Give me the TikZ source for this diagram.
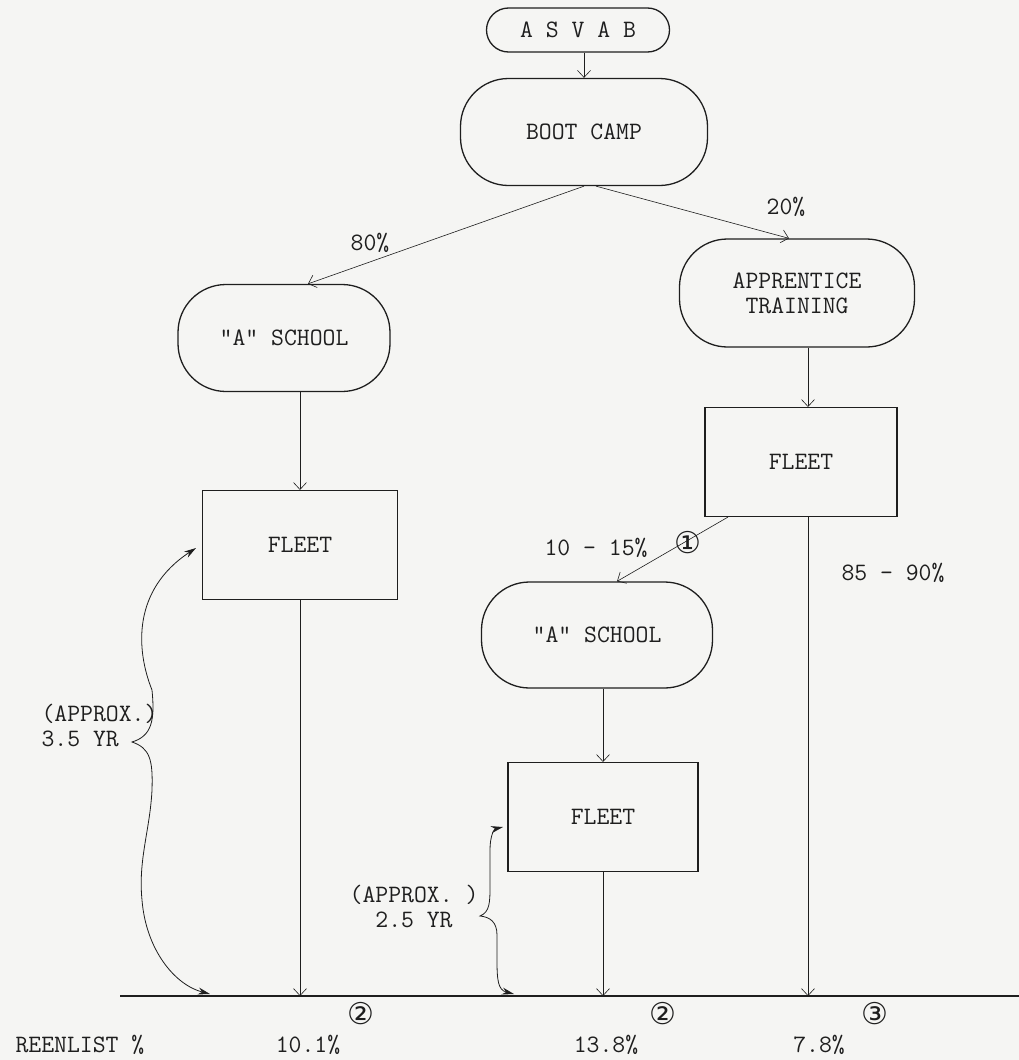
\documentclass[tikz,border=0pt]{standalone}
\usepackage{fontspec}
\newfontfamily\circfont{DejaVu Sans}
\usetikzlibrary{arrows.meta, positioning, calc}
\definecolor{paper}{HTML}{F5F5F3}
\definecolor{ink}{HTML}{1E1E1E}
\tikzset{
  typed/.style={font=\ttfamily\fontsize{25}{25}\selectfont, text=ink},
  pill/.style={typed, draw=ink, line width=1.3pt, rounded corners=48pt, align=center, inner sep=0pt},
  fleetbox/.style={typed, draw=ink, line width=1.1pt, minimum width=192pt, minimum height=109pt, inner sep=0pt},
  flow/.style={draw=ink, line width=0.6pt, -{Straight Barb[length=7pt, width=13pt]}},
  span/.style={draw=ink, line width=0.8pt, {Stealth[length=12pt, width=7pt]}-{Stealth[length=12pt, width=7pt]}},
  circled/.style={font=\circfont\fontsize{30}{30}\selectfont, text=ink, inner sep=0pt},
}

\begin{document}
\begin{tikzpicture}[x=1pt, y=-1pt]
  \fill[paper] (0,0) rectangle (1019,1060);
  \useasboundingbox (0,0) rectangle (1019,1060);

  % stages
  \node[pill, minimum width=183pt, minimum height=44pt, rounded corners=22pt] (asvab) at (578,30) {A S V A B};
  \node[pill, minimum width=247pt, minimum height=107pt] (boot) at (584,132) {BOOT CAMP};
  \node[pill, minimum width=212pt, minimum height=107pt] (schoolL) at (284,338) {"A" SCHOOL};
  \node[pill, minimum width=235pt, minimum height=108pt] (train) at (797,293) {APPRENTICE\\TRAINING};
  \node[fleetbox] (fleetR) at (801,462) {FLEET};
  \node[fleetbox, minimum width=195pt] (fleetL) at (300,545) {FLEET};
  \node[pill, minimum width=231pt, minimum height=106pt] (schoolM) at (597,635) {"A" SCHOOL};
  \node[fleetbox, minimum width=190pt] (fleetM) at (603,817) {FLEET};

  % time line
  \coordinate (baseW) at (120,996);
  \coordinate (baseE) at (1019,996);
  \draw[ink, line width=1.4pt] (baseW) -- (baseE);

  % flows
  \draw[flow] (boot.north |- asvab.south) -- (boot.north);
  \draw[flow] (boot.south) -- ([xshift=24pt]schoolL.north);
  \draw[flow] ([xshift=12pt]boot.south) -- ([xshift=-8pt]train.north);
  \draw[flow] ([xshift=11pt]train.south) -- ([xshift=7pt]fleetR.north);
  \draw[flow] (fleetL.north |- schoolL.south) -- (fleetL.north);
  \draw[flow] (fleetL.south) -- (fleetL.south |- baseW);
  \coordinate (dropR) at ([xshift=7pt]fleetR.south);
  \draw[flow] (dropR) -- (dropR |- baseW);
  \draw[flow] ([xshift=-73pt]fleetR.south) -- ([xshift=20pt]schoolM.north);
  \draw[flow] (fleetM.north |- schoolM.south) -- (fleetM.north);
  \draw[flow] (fleetM.south) -- (fleetM.south |- baseW);

  % shares
  \node[typed] (shareA) at (370,243) {80\%};
  \node[typed] (shareB) at (786,207) {20\%};
  \node[typed] (shareC) at (596,548) {10 - 15\%};
  \node[circled] (noteA) at (688,543) {①};
  \node[typed] (shareD) at (893,573) {85 - 90\%};

  % service spans
  \coordinate (yrsAlow) at (210,994);
  \coordinate (yrsAtop) at (196,548);
  \draw[span] (yrsAlow) .. controls (175,985) and (146,950) .. (142,900)
    .. controls (138,860) and (150,830) .. (152,790)
    .. controls (153,760) and (150,748) .. (132,742)
    .. controls (152,736) and (155,720) .. (152,690)
    .. controls (136,650) and (132,590) .. (yrsAtop);
  \node[typed, align=left, anchor=west] (yrsA) at (38,725) {(APPROX.)\\3.5 YR};

  \coordinate (yrsBlow) at (514,994);
  \coordinate (yrsBtop) at (503,827);
  \draw[span] (yrsBlow) .. controls (498,990) and (497,980) .. (497,960)
    -- (497,935) .. controls (497,922) and (490,917) .. (480,916)
    .. controls (490,912) and (490,902) .. (490,885)
    -- (490,850) .. controls (490,836) and (494,829) .. (yrsBtop);
  \node[typed, align=center] (yrsB) at (414,906) {(APPROX. )\\2.5 YR};

  % reenlistment
  \node[circled] (noteB) at (361,1014) {②};
  \node[circled] (noteC) at (663,1014) {②};
  \node[circled] (noteD) at (875,1014) {③};
  \node[typed, anchor=west] (reen) at (12,1045) {REENLIST \%};
  \node[typed] (reenA) at (308,1045) {10.1\%};
  \node[typed] (reenB) at (606,1045) {13.8\%};
  \node[typed] (reenC) at (819,1045) {7.8\%};
\end{tikzpicture}
\end{document}
